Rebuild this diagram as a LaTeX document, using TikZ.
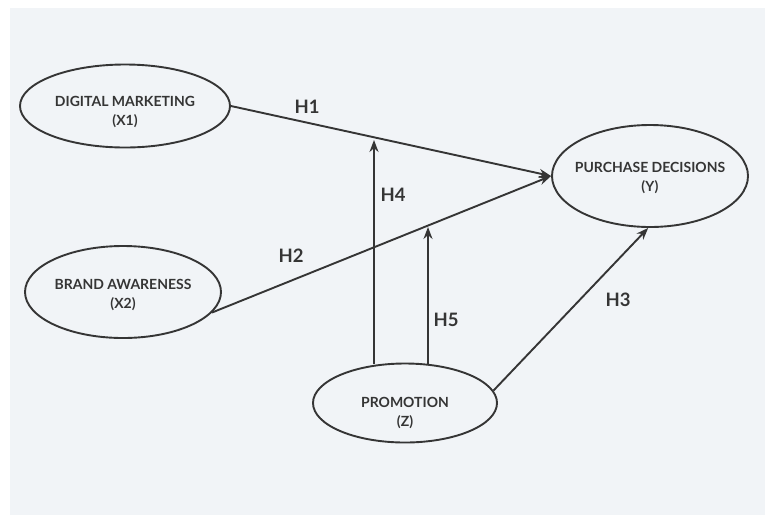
\documentclass[tikz,border=0pt]{standalone}
\usepackage{fontspec}
\setmainfont{Lato}
\usetikzlibrary{shapes.geometric,arrows.meta}
\definecolor{bgc}{HTML}{F1F4F7}
\definecolor{ink}{HTML}{353535}
\tikzset{
  var/.style={ellipse,draw=ink,line width=1.9pt,inner sep=0pt},
  vtext/.style={text=ink,font=\bfseries\fontsize{14}{19.5}\selectfont,align=center,inner sep=0pt},
  link/.style={draw=ink,line width=1.9pt,-{Stealth[length=12pt,width=9pt]}},
  hlab/.style={text=ink,font=\bfseries\fontsize{18.5}{20}\selectfont,inner sep=0pt}
}
\begin{document}
\begin{tikzpicture}[x=1pt,y=-1pt]
\useasboundingbox (0,0) rectangle (765,515);
\fill[white] (0,0) rectangle (765,515);
\fill[bgc] (10,8) rectangle (765,515);

\node[var,minimum width=210pt,minimum height=83pt,
  label={[vtext,yshift=-6pt]center:{DIGITAL MARKETING\\(X1)}}] (dm) at (125,106) {};
\node[var,minimum width=196pt,minimum height=92pt,
  label={[vtext,yshift=-3pt]center:{BRAND AWARENESS\\(X2)}}] (ba) at (123,292) {};
\node[var,minimum width=196pt,minimum height=102pt,
  label={[vtext,yshift=-2pt]center:{PURCHASE DECISIONS\\(Y)}}] (pd) at (650,176) {};
\node[var,minimum width=184pt,minimum height=79pt,
  label={[vtext,yshift=-10pt]center:{PROMOTION\\(Z)}}] (pz) at (405,403) {};

\coordinate (h4top) at (374,140);
\coordinate (h5top) at (428,227);

\draw[link] (dm.east) -- (pd.west);
\draw[link] (ba.-13) -- (pd.west);
\draw[link] (pz.8) -- (pd.-92);
\draw[link] (h4top |- pz.north) ++(0,1.5) -- (h4top);
\draw[link] (h5top |- pz.north) ++(0,1.5) -- (h5top);

\node[hlab] (l1) at (307,107) {H1};
\node[hlab] (l2) at (291,256) {H2};
\node[hlab] (l3) at (618,300) {H3};
\node[hlab] (l4) at (393,195) {H4};
\node[hlab] (l5) at (446,320) {H5};
\end{tikzpicture}
\end{document}
